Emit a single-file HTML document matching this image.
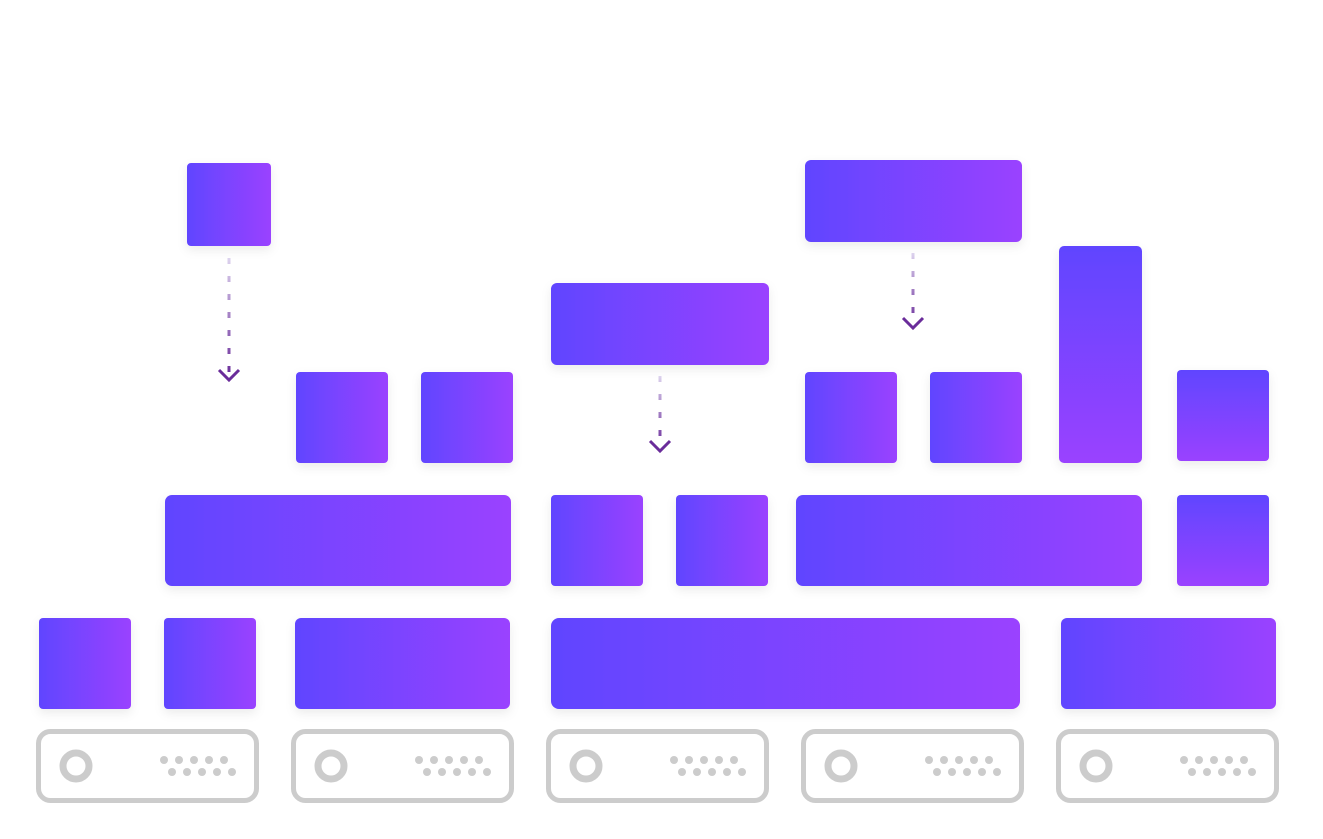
<!DOCTYPE html>
<html><head><meta charset="utf-8"><style>
html,body{margin:0;padding:0;background:#fff;width:1323px;height:839px;overflow:hidden}
</style></head><body>
<svg width="1323" height="839" viewBox="0 0 1323 839" xmlns="http://www.w3.org/2000/svg">
<defs>
<linearGradient id="h" x1="0" y1="0" x2="1" y2="0"><stop offset="0" stop-color="#6045ff"/><stop offset="1" stop-color="#9a42ff"/></linearGradient>
<linearGradient id="v" x1="0" y1="0" x2="0" y2="1"><stop offset="0" stop-color="#6045ff"/><stop offset="1" stop-color="#9a42ff"/></linearGradient>
<linearGradient id="g1" gradientUnits="userSpaceOnUse" x1="0" y1="258" x2="0" y2="376"><stop offset="0" stop-color="#ddd3ee"/><stop offset="1" stop-color="#6a2c9a"/></linearGradient>
<linearGradient id="g2" gradientUnits="userSpaceOnUse" x1="0" y1="376" x2="0" y2="448"><stop offset="0" stop-color="#ddd3ee"/><stop offset="1" stop-color="#6a2c9a"/></linearGradient>
<linearGradient id="g3" gradientUnits="userSpaceOnUse" x1="0" y1="253" x2="0" y2="325"><stop offset="0" stop-color="#ddd3ee"/><stop offset="1" stop-color="#6a2c9a"/></linearGradient>
<filter id="s" x="-20%" y="-20%" width="140%" height="150%"><feDropShadow dx="0" dy="4" stdDeviation="5" flood-color="#000" flood-opacity="0.08"/></filter>
<g id="srv">
<rect x="2.5" y="2.5" width="218" height="69" rx="12" fill="none" stroke="#cccccc" stroke-width="5"/>
<circle cx="40" cy="37" r="13" fill="none" stroke="#cccccc" stroke-width="7"/>
<g fill="#cccccc">
<circle cx="128" cy="31" r="4"/><circle cx="143" cy="31" r="4"/><circle cx="158" cy="31" r="4"/><circle cx="173" cy="31" r="4"/><circle cx="188" cy="31" r="4"/>
<circle cx="136" cy="43" r="4"/><circle cx="151" cy="43" r="4"/><circle cx="166" cy="43" r="4"/><circle cx="181" cy="43" r="4"/><circle cx="196" cy="43" r="4"/>
</g></g>
</defs>
<g filter="url(#s)">
<rect x="187" y="163" width="84" height="83" rx="4" fill="url(#h)"/>
<rect x="296" y="372" width="92" height="91" rx="4" fill="url(#h)"/>
<rect x="421" y="372" width="92" height="91" rx="4" fill="url(#h)"/>
<rect x="551" y="283" width="218" height="82" rx="6" fill="url(#h)"/>
<rect x="805" y="160" width="217" height="82" rx="6" fill="url(#h)"/>
<rect x="805" y="372" width="92" height="91" rx="4" fill="url(#h)"/>
<rect x="930" y="372" width="92" height="91" rx="4" fill="url(#h)"/>
<rect x="1059" y="246" width="83" height="217" rx="5" fill="url(#v)"/>
<rect x="1177" y="370" width="92" height="91" rx="4" fill="url(#v)"/>
<rect x="165" y="495" width="346" height="91" rx="7" fill="url(#h)"/>
<rect x="551" y="495" width="92" height="91" rx="4" fill="url(#h)"/>
<rect x="676" y="495" width="92" height="91" rx="4" fill="url(#h)"/>
<rect x="796" y="495" width="346" height="91" rx="7" fill="url(#h)"/>
<rect x="1177" y="495" width="92" height="91" rx="4" fill="url(#v)"/>
<rect x="39" y="618" width="92" height="91" rx="4" fill="url(#h)"/>
<rect x="164" y="618" width="92" height="91" rx="4" fill="url(#h)"/>
<rect x="295" y="618" width="215" height="91" rx="6" fill="url(#h)"/>
<rect x="551" y="618" width="469" height="91" rx="8" fill="url(#h)"/>
<rect x="1061" y="618" width="215" height="91" rx="6" fill="url(#h)"/>
</g>
<g stroke-width="3" fill="none">
<line x1="229" y1="258" x2="229" y2="376" stroke="url(#g1)" stroke-dasharray="6,12"/>
<polyline points="219,370 229,380 239,370" stroke="#6a2c9a"/>
<line x1="660" y1="376" x2="660" y2="448" stroke="url(#g2)" stroke-dasharray="6,12"/>
<polyline points="650,441 660,451 670,441" stroke="#6a2c9a"/>
<line x1="913" y1="253" x2="913" y2="325" stroke="url(#g3)" stroke-dasharray="6,12"/>
<polyline points="903,318 913,328 923,318" stroke="#6a2c9a"/>
</g>
<use href="#srv" x="36" y="729"/>
<use href="#srv" x="291" y="729"/>
<use href="#srv" x="546" y="729"/>
<use href="#srv" x="801" y="729"/>
<use href="#srv" x="1056" y="729"/>
</svg>
</body></html>
